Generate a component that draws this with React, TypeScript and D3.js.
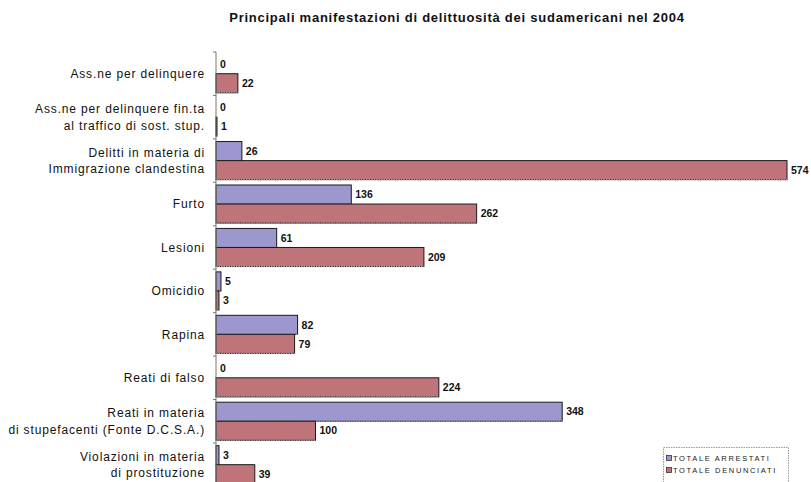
import React from "react";
import * as d3 from "d3";

const title = "Principali manifestazioni di delittuosità dei sudamericani nel 2004";

// Each category label as one or two lines
const categories: string[][] = [
  ["Ass.ne per delinquere"],
  ["Ass.ne per delinquere fin.ta", "al traffico di sost. stup."],
  ["Delitti in materia di", "Immigrazione clandestina"],
  ["Furto"],
  ["Lesioni"],
  ["Omicidio"],
  ["Rapina"],
  ["Reati di falso"],
  ["Reati in materia", "di stupefacenti  (Fonte D.C.S.A.)"],
  ["Violazioni in materia", "di prostituzione"],
];

const arrestati = [0, 0, 26, 136, 61, 5, 82, 0, 348, 3];
const denunciati = [22, 1, 574, 262, 209, 3, 79, 224, 100, 39];

const seriesNames = ["TOTALE ARRESTATI", "TOTALE DENUNCIATI"];
const seriesColors = ["#9c98cf", "#bf7479"];

const W = 811;
const H = 482;
const FONT = "'Liberation Sans', Arial, sans-serif";

export default function App() {
  const x0 = 216;
  const x = d3.scaleLinear().domain([0, 574]).range([x0, 787]);
  const idx = categories.map((_, i) => String(i));
  const y = d3.scaleBand<string>().domain(idx).range([52, 52 + 43.44 * 10]).padding(0);
  const inner = d3
    .scaleBand<string>()
    .domain(["a", "d"])
    .range([0, y.bandwidth()])
    .paddingInner(0)
    .paddingOuter(0.14);

  const series = [arrestati, denunciati];
  const keys = ["a", "d"];

  return (
    <div style={{ position: "absolute", left: 0, top: 0 }}>
      <svg width={W} height={H} style={{ display: "block", background: "#fff" }} fontFamily={FONT}>
        <text x={457} y={22} textAnchor="middle" fontSize={13} fontWeight="bold" fill="#111" letterSpacing={0.75}>
          {title}
        </text>

        {/* category labels */}
        {categories.map((lines, i) => {
          const cy = (y(String(i)) as number) + y.bandwidth() / 2;
          const lh = 16.5;
          return (
            <text key={i} textAnchor="end" fontSize={12} fill="#111" letterSpacing={0.85}>
              {lines.map((ln, j) => (
                <tspan key={j} x={205} y={cy + (j - (lines.length - 1) / 2) * lh} dy="0.35em">
                  {ln}
                </tspan>
              ))}
            </text>
          );
        })}

        {/* bars */}
        {categories.map((_, i) => {
          const top = y(String(i)) as number;
          return series.map((vals, s) => {
            const v = vals[i];
            const by = top + (inner(keys[s]) as number);
            const bh = inner.bandwidth();
            const xe = x(v);
            return (
              <g key={`${i}-${s}`}>
                {v > 0 && (
                  <>
                    <rect x={x0} y={by} width={xe - x0} height={bh} fill={seriesColors[s]} stroke="#1a1a1a" strokeWidth={1} />
                    <line x1={x0} x2={xe} y1={by + bh} y2={by + bh} stroke="#aaa" strokeWidth={1} strokeDasharray="1.5,1" />
                  </>
                )}
                <text x={xe + 4} y={by + bh / 2} dy="0.35em" fontSize={10.5} fontWeight="bold" fill="#111">
                  {v}
                </text>
              </g>
            );
          });
        })}

        {/* category axis */}
        <line x1={x0} x2={x0} y1={52} y2={H} stroke="#777" strokeWidth={1} />
        {d3.range(categories.length + 1).map((k) => {
          const ty = 52 + k * y.step();
          return <line key={k} x1={x0 - 3} x2={x0} y1={ty} y2={ty} stroke="#777" strokeWidth={1} />;
        })}

        {/* legend */}
        <rect x={663.5} y={447.5} width={125} height={45} fill="#fff" stroke="#999" strokeWidth={1} strokeDasharray="1.5,1" />
        {seriesNames.map((name, s) => {
          const ly = 458 + s * 12;
          return (
            <g key={name}>
              <rect x={666.5} y={ly - 2.5} width={5} height={5} fill={seriesColors[s]} stroke="#333" strokeWidth={0.8} />
              <text x={673} y={ly} dy="0.35em" fontSize={7.5} fill="#222" letterSpacing={1.65}>
                {name}
              </text>
            </g>
          );
        })}
      </svg>
    </div>
  );
}
